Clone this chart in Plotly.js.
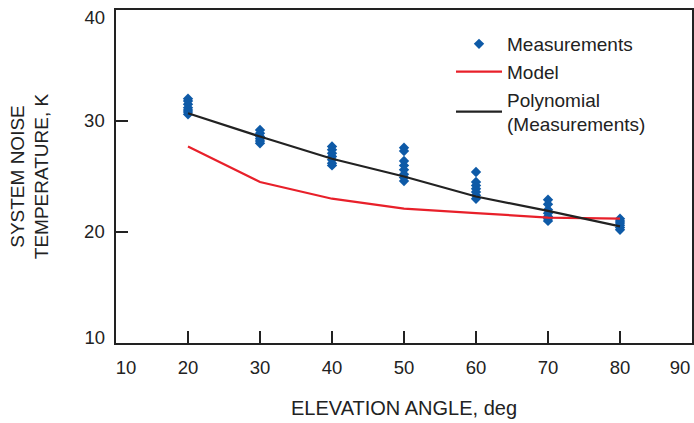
<!DOCTYPE html>
<html>
<head>
<meta charset="utf-8">
<script src="https://cdn.plot.ly/plotly-3.0.1.min.js"></script>
<style>html,body{margin:0;padding:0;background:#fff;}#chart{width:694px;height:423px;}</style>
</head>
<body>
<div id="chart"></div>
<script>
// Measurements: elevation angle (deg) and system noise temperature (K)
const measAngle = [
  20,20,20,20,20,20,20,
  30,30,30,30,30,30,
  40,40,40,40,40,40,40,
  50,50,50,50,50,50,50,50,
  60,60,60,60,60,60,60,
  70,70,70,70,70,70,70,
  80,80,80,80,80,80
];
const measTemp = [
  30.6,30.8,31.0,31.2,31.5,31.8,32.0,
  28.0,28.2,28.4,28.6,28.9,29.2,
  26.0,26.2,26.5,26.8,27.1,27.4,27.7,
  24.6,24.9,25.2,25.6,26.0,26.4,27.3,27.6,
  23.0,23.3,23.6,23.9,24.2,24.5,25.4,
  21.0,21.2,21.4,21.7,22.0,22.5,22.9,
  20.2,20.4,20.6,20.8,21.0,21.2
];
const modelAngle = [20,30,40,50,60,70,80];
const modelTemp  = [27.7,24.5,23.0,22.1,21.7,21.3,21.2];
const polyAngle  = [20,30,40,50,60,70,80];
const polyTemp   = [30.7,28.6,26.6,25.0,23.2,21.9,20.5];

const xTicks = [10,20,30,40,50,60,70,80,90];
const xTickLabels = ['10','20','30','40','50','60','70','80','90'];
const yTicks = [10,20,30,40];
const yTickLabels = ['10','20','30','40'];

const font = 'Liberation Sans, Arial, Helvetica, sans-serif';
const tickFont = {family: font, size: 18.5, color: '#222'};

// inner labels on the main axes; the two edge labels of each axis are nudged inside the frame
const lastX = xTicks.length - 1, lastY = yTicks.length - 1;
const xInnerText = xTickLabels.map((t, i) => (i === 0 || i === lastX) ? '' : t);
const yInnerText = yTickLabels.map((t, i) => (i === 0 || i === lastY) ? '' : t);

const traces = [
  {x: measAngle, y: measTemp, type: 'scatter', mode: 'markers', name: 'Measurements',
   marker: {symbol: 'diamond', size: 8, color: '#0e5aa7'}},
  {x: modelAngle, y: modelTemp, type: 'scatter', mode: 'lines', name: 'Model',
   line: {color: '#e8202a', width: 2.2}},
  {x: polyAngle, y: polyTemp, type: 'scatter', mode: 'lines', name: 'Polynomial<br>(Measurements)',
   line: {color: '#222222', width: 2.2}}
];
// empty carriers so the label-only overlay axes get drawn
[['x2','y'],['x3','y'],['x','y2'],['x','y3']].forEach(([xa, ya]) => traces.push(
  {x: [], y: [], type: 'scatter', mode: 'markers', xaxis: xa, yaxis: ya, showlegend: false, hoverinfo: 'skip'}));

const edgeAxis = (range, vals, text, shift, standoff, over, anchor, side) => ({
  range: range, tickvals: vals, ticktext: text, ticks: '', showline: false, showgrid: false,
  zeroline: false, overlaying: over, anchor: anchor, side: side, ticklabelshift: shift,
  ticklabeloverflow: 'allow', ticklabelstandoff: standoff, tickfont: tickFont, fixedrange: true
});

const layout = {
  width: 694, height: 423,
  margin: {l: 116, r: 2, t: 10, b: 80},
  paper_bgcolor: '#fff', plot_bgcolor: '#fff',
  font: {family: font, size: 18, color: '#222'},
  showlegend: true,
  legend: {x: 0.5816, y: 0.955, xanchor: 'left', yanchor: 'top', bgcolor: 'rgba(0,0,0,0)',
           itemwidth: 46, font: {family: font, size: 19, color: '#222'}, tracegroupgap: 0},
  xaxis: {
    range: [10, 90], tickvals: xTicks, ticktext: xInnerText, ticks: 'inside', ticklen: 12, tickwidth: 1.2, tickcolor: '#222',
    showline: true, linecolor: '#222', linewidth: 1.6, mirror: true, showgrid: false, zeroline: false,
    ticklabelstandoff: 7, tickfont: tickFont,
    title: {text: 'ELEVATION ANGLE, deg', font: {family: font, size: 20, color: '#222'}, standoff: 24}
  },
  yaxis: {
    range: [10, 40], tickvals: yTicks, ticktext: yInnerText, ticks: 'inside', ticklen: 12, tickwidth: 1.2, tickcolor: '#222',
    showline: true, linecolor: '#222', linewidth: 1.6, mirror: true, showgrid: false, zeroline: false,
    ticklabelstandoff: 6, tickfont: tickFont,
    title: {text: 'SYSTEM NOISE<br>TEMPERATURE, K', font: {family: font, size: 19, color: '#222'}, standoff: 30}
  },
  xaxis2: edgeAxis([10, 90], [xTicks[lastX]], [xTickLabels[lastX]], -12, 11, 'x', 'y', 'bottom'),
  xaxis3: edgeAxis([10, 90], [xTicks[0]], [xTickLabels[0]], 10, 11, 'x', 'y', 'bottom'),
  yaxis2: edgeAxis([10, 40], [yTicks[lastY]], [yTickLabels[lastY]], 8, 10, 'y', 'x', 'left'),
  yaxis3: edgeAxis([10, 40], [yTicks[0]], [yTickLabels[0]], -5, 10, 'y', 'x', 'left')
};

Plotly.newPlot('chart', traces, layout, {displayModeBar: false, staticPlot: true});
</script>
</body>
</html>
